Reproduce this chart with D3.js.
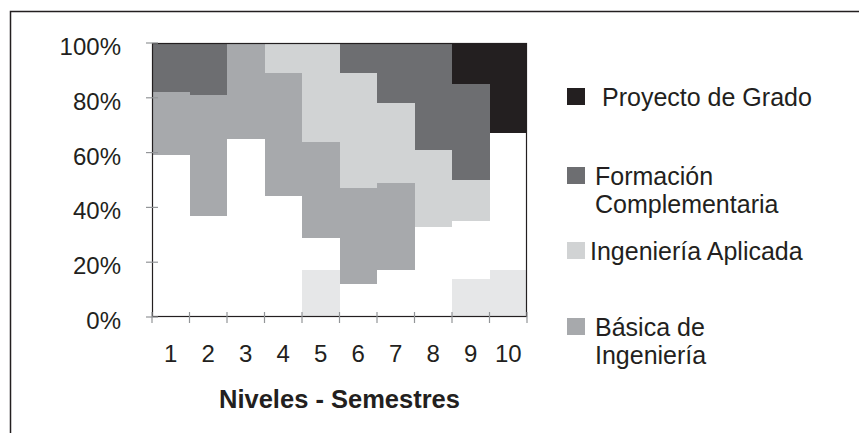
<!DOCTYPE html>
<html>
<head>
<meta charset="utf-8">
<script src="https://cdn.jsdelivr.net/npm/d3@7"></script>
<style>
  body { margin: 0; background: #fff; }
  svg { display: block; font-family: Arial, "Liberation Sans", sans-serif; }
</style>
</head>
<body>
<div class="container"></div>
<script>
// semestres (eje x)
const semestres = ['1', '2', '3', '4', '5', '6', '7', '8', '9', '10'];
const yTicks = [0, 20, 40, 60, 80, 100];

// porcentaje de cada area por semestre, de abajo hacia arriba
const otros        = [0, 0, 0, 0, 17, 0, 0, 0, 14, 17];   // gris muy claro, sin leyenda
const ciencias     = [59, 37, 65, 44, 12, 12, 17, 33, 21, 50]; // blanco, sin leyenda
const basicaIng    = [23, 44, 35, 45, 35, 35, 32, 0, 0, 0];
const ingAplicada  = [0, 0, 0, 11, 36, 42, 29, 28, 15, 0];
const formComp     = [18, 19, 0, 0, 0, 11, 22, 39, 35, 0];
const proyecto     = [0, 0, 0, 0, 0, 0, 0, 0, 15, 33];

const keys = ['otros', 'ciencias', 'basica', 'aplicada', 'complementaria', 'proyecto'];
const colors = {
  otros: '#e6e7e8',
  ciencias: '#ffffff',
  basica: '#a7a9ac',
  aplicada: '#d1d3d4',
  complementaria: '#6d6e71',
  proyecto: '#231f20'
};

const legendItems = [
  {key: 'proyecto', lines: ['Proyecto de Grado'], y: 96, dx: 35},
  {key: 'complementaria', lines: ['Formación', 'Complementaria'], y: 175, dx: 28},
  {key: 'aplicada', lines: ['Ingeniería Aplicada'], y: 250, dx: 23},
  {key: 'basica', lines: ['Básica de', 'Ingeniería'], y: 326, dx: 28}
];

const table = semestres.map((s, i) => ({
  semestre: s,
  otros: otros[i],
  ciencias: ciencias[i],
  basica: basicaIng[i],
  aplicada: ingAplicada[i],
  complementaria: formComp[i],
  proyecto: proyecto[i]
}));

const W = 859, H = 433;
const margin = {top: 43, left: 152, right: 332, bottom: 116};
const width = W - margin.left - margin.right;
const height = H - margin.top - margin.bottom;

const svg = d3.select('.container').append('svg')
  .attr('width', W)
  .attr('height', H);

// marco exterior (solo arriba e izquierda)
svg.append('path')
  .attr('d', `M10.5,${H} V11.5 H${W}`)
  .attr('fill', 'none')
  .attr('stroke', '#231f20')
  .attr('stroke-width', 1.5);

const g = svg.append('g')
  .attr('transform', `translate(${margin.left},${margin.top})`);

const x = d3.scaleBand().domain(semestres).range([0, width]).padding(0);
const y = d3.scaleLinear().domain([0, 100]).range([height, 0]);

const series = d3.stack().keys(keys)(table);

g.selectAll('g.serie')
  .data(series)
  .join('g')
  .attr('class', 'serie')
  .attr('fill', d => colors[d.key])
  .selectAll('rect')
  .data(d => d)
  .join('rect')
  .attr('x', d => x(d.data.semestre))
  .attr('y', d => y(d[1]))
  .attr('width', x.bandwidth())
  .attr('height', d => y(d[0]) - y(d[1]))
  .attr('shape-rendering', 'crispEdges');

// borde del area de grafico
g.append('rect')
  .attr('x', 0.5).attr('y', 0.5)
  .attr('width', width - 1).attr('height', height - 1)
  .attr('fill', 'none')
  .attr('stroke', '#231f20')
  .attr('stroke-width', 1.2);

// ticks del eje y
g.selectAll('line.ytick')
  .data(yTicks)
  .join('line')
  .attr('class', 'ytick')
  .attr('x1', -6).attr('x2', 6)
  .attr('y1', d => y(d)).attr('y2', d => y(d))
  .attr('stroke', '#939598')
  .attr('stroke-width', 1.2);

g.selectAll('text.ylab')
  .data(yTicks)
  .join('text')
  .attr('class', 'ylab')
  .attr('x', -31)
  .attr('y', d => y(d) + 12)
  .attr('text-anchor', 'end')
  .attr('font-size', '24px')
  .attr('fill', '#231f20')
  .text(d => d + '%');

// ticks del eje x, en los bordes de cada columna
const xEdges = semestres.map(s => x(s)).concat([width]);
g.selectAll('line.xtick')
  .data(xEdges)
  .join('line')
  .attr('class', 'xtick')
  .attr('x1', d => d).attr('x2', d => d)
  .attr('y1', height - 5).attr('y2', height + 6)
  .attr('stroke', '#939598')
  .attr('stroke-width', 1.2);

g.selectAll('text.xlab')
  .data(semestres)
  .join('text')
  .attr('class', 'xlab')
  .attr('x', d => x(d) + x.bandwidth() / 2)
  .attr('y', height + 45)
  .attr('text-anchor', 'middle')
  .attr('font-size', '24px')
  .attr('fill', '#231f20')
  .text(d => d);

g.append('text')
  .attr('x', width / 2)
  .attr('y', height + 91)
  .attr('text-anchor', 'middle')
  .attr('font-size', '25.5px')
  .attr('font-weight', 'bold')
  .attr('fill', '#231f20')
  .text('Niveles - Semestres');

// leyenda
const leg = svg.selectAll('g.leg')
  .data(legendItems)
  .join('g')
  .attr('class', 'leg')
  .attr('transform', d => `translate(567,${d.y})`);

leg.append('rect')
  .attr('x', 0).attr('y', -8)
  .attr('width', 18).attr('height', 17)
  .attr('fill', d => colors[d.key]);

leg.append('text')
  .attr('font-size', '25px')
  .attr('fill', '#231f20')
  .selectAll('tspan')
  .data(d => d.lines.map((l, i) => ({l, i, dx: d.dx})))
  .join('tspan')
  .attr('x', d => d.dx)
  .attr('y', d => 10 + d.i * 28)
  .text(d => d.l);
</script>
</body>
</html>
